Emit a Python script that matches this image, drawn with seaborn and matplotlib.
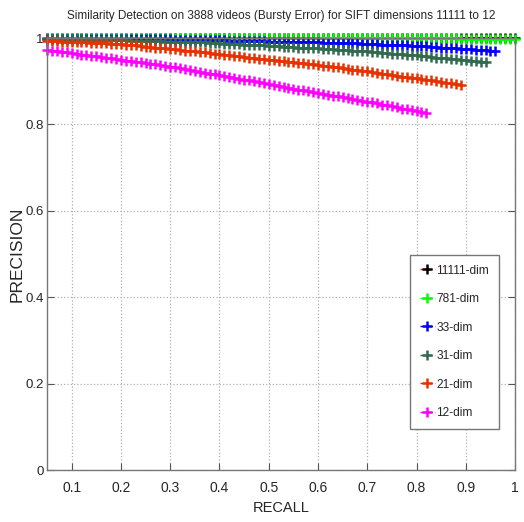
import matplotlib
matplotlib.use("Agg")
import matplotlib.pyplot as plt
import seaborn as sns

recall = [0.05, 0.06, 0.07, 0.08, 0.09, 0.10, 0.11, 0.12, 0.13, 0.14,
          0.15, 0.16, 0.17, 0.18, 0.19, 0.20, 0.21, 0.22, 0.23, 0.24,
          0.25, 0.26, 0.27, 0.28, 0.29, 0.30, 0.31, 0.32, 0.33, 0.34,
          0.35, 0.36, 0.37, 0.38, 0.39, 0.40, 0.41, 0.42, 0.43, 0.44,
          0.45, 0.46, 0.47, 0.48, 0.49, 0.50, 0.51, 0.52, 0.53, 0.54,
          0.55, 0.56, 0.57, 0.58, 0.59, 0.60, 0.61, 0.62, 0.63, 0.64,
          0.65, 0.66, 0.67, 0.68, 0.69, 0.70, 0.71, 0.72, 0.73, 0.74,
          0.75, 0.76, 0.77, 0.78, 0.79, 0.80, 0.81, 0.82, 0.83, 0.84,
          0.85, 0.86, 0.87, 0.88, 0.89, 0.90, 0.91, 0.92, 0.93, 0.94,
          0.95, 0.96, 0.97, 0.98, 0.99, 1.00]

prec_11111 = [1.0, 1.0, 1.0, 1.0, 1.0, 1.0, 1.0, 1.0, 1.0, 1.0,
              1.0, 1.0, 1.0, 1.0, 1.0, 1.0, 1.0, 1.0, 1.0, 1.0,
              1.0, 1.0, 1.0, 1.0, 1.0, 1.0, 1.0, 1.0, 1.0, 1.0,
              1.0, 1.0, 1.0, 1.0, 1.0, 1.0, 1.0, 1.0, 1.0, 1.0,
              1.0, 1.0, 1.0, 1.0, 1.0, 1.0, 1.0, 1.0, 1.0, 1.0,
              1.0, 1.0, 1.0, 1.0, 1.0, 1.0, 1.0, 1.0, 1.0, 1.0,
              1.0, 1.0, 1.0, 1.0, 1.0, 1.0, 1.0, 1.0, 1.0, 1.0,
              1.0, 1.0, 1.0, 1.0, 1.0, 1.0, 1.0, 1.0, 1.0, 1.0,
              1.0, 1.0, 1.0, 1.0, 1.0, 1.0, 1.0, 1.0, 1.0, 1.0,
              1.0, 1.0, 1.0, 1.0, 1.0, 1.0]

prec_781 = [1.0, 1.0, 1.0, 1.0, 1.0, 1.0, 1.0, 1.0, 1.0, 1.0,
            1.0, 1.0, 1.0, 1.0, 1.0, 1.0, 1.0, 1.0, 1.0, 1.0,
            1.0, 1.0, 1.0, 1.0, 1.0, 1.0, 1.0, 1.0, 1.0, 1.0,
            1.0, 1.0, 1.0, 1.0, 1.0, 1.0, 1.0, 1.0, 1.0, 1.0,
            1.0, 1.0, 1.0, 1.0, 1.0, 1.0, 1.0, 1.0, 1.0, 1.0,
            1.0, 1.0, 1.0, 1.0, 1.0, 1.0, 1.0, 1.0, 1.0, 1.0,
            1.0, 1.0, 1.0, 1.0, 1.0, 1.0, 1.0, 1.0, 1.0, 1.0,
            1.0, 1.0, 1.0, 1.0, 1.0, 1.0, 1.0, 1.0, 1.0, 1.0,
            1.0, 1.0, 1.0, 1.0, 0.999, 0.999, 0.999, 0.999, 0.999, 0.999,
            0.999, 0.999, 0.999, 0.999, 0.999, 0.999]

prec_33 = [0.999, 0.999, 0.999, 0.999, 0.999, 0.999, 0.999, 0.998, 0.998, 0.998,
           0.998, 0.998, 0.998, 0.998, 0.998, 0.998, 0.998, 0.997, 0.997, 0.997,
           0.997, 0.997, 0.997, 0.997, 0.997, 0.997, 0.996, 0.996, 0.996, 0.996,
           0.996, 0.996, 0.996, 0.995, 0.995, 0.995, 0.995, 0.994, 0.994, 0.994,
           0.994, 0.993, 0.993, 0.993, 0.993, 0.992, 0.992, 0.992, 0.992, 0.991,
           0.991, 0.991, 0.991, 0.990, 0.990, 0.990, 0.989, 0.989, 0.989, 0.989,
           0.988, 0.988, 0.988, 0.988, 0.987, 0.987, 0.986, 0.986, 0.985, 0.985,
           0.984, 0.984, 0.983, 0.983, 0.982, 0.982, 0.981, 0.981, 0.980, 0.979,
           0.978, 0.978, 0.977, 0.976, 0.975, 0.975, 0.974, 0.973, 0.972, 0.972,
           0.971, 0.970]

prec_31 = [0.998, 0.998, 0.998, 0.997, 0.997, 0.997, 0.997, 0.997, 0.996, 0.996,
           0.996, 0.996, 0.995, 0.995, 0.995, 0.995, 0.995, 0.994, 0.994, 0.994,
           0.993, 0.993, 0.993, 0.993, 0.992, 0.992, 0.992, 0.991, 0.991, 0.991,
           0.990, 0.990, 0.990, 0.989, 0.989, 0.988, 0.987, 0.987, 0.986, 0.986,
           0.985, 0.984, 0.984, 0.983, 0.983, 0.982, 0.981, 0.981, 0.980, 0.980,
           0.979, 0.978, 0.978, 0.977, 0.977, 0.976, 0.975, 0.975, 0.974, 0.973,
           0.972, 0.972, 0.971, 0.970, 0.970, 0.969, 0.968, 0.967, 0.966, 0.965,
           0.964, 0.964, 0.963, 0.962, 0.961, 0.960, 0.959, 0.958, 0.957, 0.955,
           0.954, 0.953, 0.952, 0.951, 0.950, 0.949, 0.948, 0.947, 0.945, 0.944]

prec_21 = [0.994, 0.993, 0.993, 0.992, 0.992, 0.991, 0.991, 0.990, 0.990, 0.989,
           0.989, 0.988, 0.988, 0.987, 0.987, 0.986, 0.985, 0.984, 0.983, 0.981,
           0.980, 0.979, 0.978, 0.977, 0.976, 0.975, 0.974, 0.972, 0.971, 0.970,
           0.969, 0.968, 0.967, 0.965, 0.964, 0.963, 0.961, 0.960, 0.959, 0.958,
           0.956, 0.955, 0.954, 0.952, 0.951, 0.950, 0.949, 0.948, 0.946, 0.945,
           0.944, 0.943, 0.942, 0.940, 0.939, 0.938, 0.936, 0.935, 0.933, 0.932,
           0.930, 0.929, 0.927, 0.926, 0.924, 0.923, 0.921, 0.920, 0.918, 0.916,
           0.915, 0.913, 0.911, 0.910, 0.908, 0.907, 0.905, 0.903, 0.902, 0.900,
           0.898, 0.897, 0.895, 0.894, 0.892]

prec_12 = [0.973, 0.971, 0.970, 0.968, 0.967, 0.965, 0.964, 0.962, 0.961, 0.959,
           0.958, 0.956, 0.955, 0.953, 0.952, 0.950, 0.948, 0.947, 0.945, 0.944,
           0.942, 0.940, 0.939, 0.937, 0.936, 0.934, 0.932, 0.930, 0.928, 0.926,
           0.924, 0.922, 0.920, 0.918, 0.916, 0.914, 0.912, 0.910, 0.908, 0.906,
           0.904, 0.902, 0.900, 0.898, 0.896, 0.894, 0.892, 0.890, 0.887, 0.885,
           0.883, 0.881, 0.879, 0.877, 0.875, 0.873, 0.871, 0.869, 0.867, 0.865,
           0.863, 0.861, 0.859, 0.857, 0.855, 0.853, 0.851, 0.849, 0.846, 0.844,
           0.842, 0.840, 0.837, 0.835, 0.833, 0.831, 0.828, 0.826]

series_labels = ["11111-dim", "781-dim", "33-dim", "31-dim", "21-dim", "12-dim"]
series_values = [prec_11111, prec_781, prec_33, prec_31, prec_21, prec_12]
line_colors = ["#ff2000", "#00ff00", "#0000ff", "#306b50", "#e63200", "#ff00ff"]
marker_colors = ["#000000", "#00ff00", "#0000ff", "#306b50", "#e63200", "#ff00ff"]

x_ticks = [0.1, 0.2, 0.3, 0.4, 0.5, 0.6, 0.7, 0.8, 0.9, 1.0]
x_tick_labels = ["0.1", "0.2", "0.3", "0.4", "0.5", "0.6", "0.7", "0.8", "0.9", "1"]
y_ticks = [0, 0.2, 0.4, 0.6, 0.8, 1.0]
y_tick_labels = ["0", "0.2", "0.4", "0.6", "0.8", "1"]

sns.set_style("white")
plt.rcParams["font.family"] = ["Liberation Sans", "DejaVu Sans"]

fig = plt.figure(figsize=(5.24, 5.22), dpi=100)
ax = fig.add_axes([0.0897, 0.0996, 0.8933, 0.8274])

for lab, vals, lc, mc in zip(series_labels, series_values, line_colors, marker_colors):
    sns.lineplot(x=recall[:len(vals)], y=vals, ax=ax, label=lab, color=lc,
                 linestyle="--", linewidth=1.0, marker="+", markersize=7,
                 markeredgewidth=1.8, markeredgecolor=mc, markerfacecolor=mc,
                 sort=False, estimator=None, clip_on=False)

ax.set_xlim(0.05, 1.0)
ax.set_ylim(0, 1.0)
ax.set_xticks(x_ticks)
ax.set_xticklabels(x_tick_labels, fontsize=10)
ax.set_yticks(y_ticks)
ax.set_yticklabels(y_tick_labels, fontsize=9.5)
ax.grid(True, linestyle=":", color="#b0b0b0", linewidth=0.9)
ax.tick_params(direction="in", length=5, width=0.8, color="#555555",
               top=True, right=True, bottom=True, left=True)
ax.tick_params(axis="x", pad=8)
ax.tick_params(axis="y", pad=2.5)
for s in ax.spines.values():
    s.set_color("#777777")
    s.set_linewidth(1.0)
    s.set_visible(True)

ax.set_title("Similarity Detection on 3888 videos (Bursty Error) for SIFT dimensions 11111 to 12",
             fontsize=8.5, pad=14)
ax.set_xlabel("RECALL", fontsize=10.5, va="center")
ax.xaxis.set_label_coords(0.5, -0.088)
ax.set_ylabel("PRECISION", fontsize=12.5, va="center")
ax.yaxis.set_label_coords(-0.063, 0.5)

leg = ax.legend(loc="upper left", bbox_to_anchor=(0.7756, 0.4977), fontsize=8.6,
                frameon=True, fancybox=False, framealpha=1, edgecolor="#777777",
                handlelength=1.3, handletextpad=0.1, labelspacing=1.38,
                borderpad=0.8, borderaxespad=0)
leg.get_frame().set_linewidth(1.0)

fig.savefig("out.png", dpi=100)
